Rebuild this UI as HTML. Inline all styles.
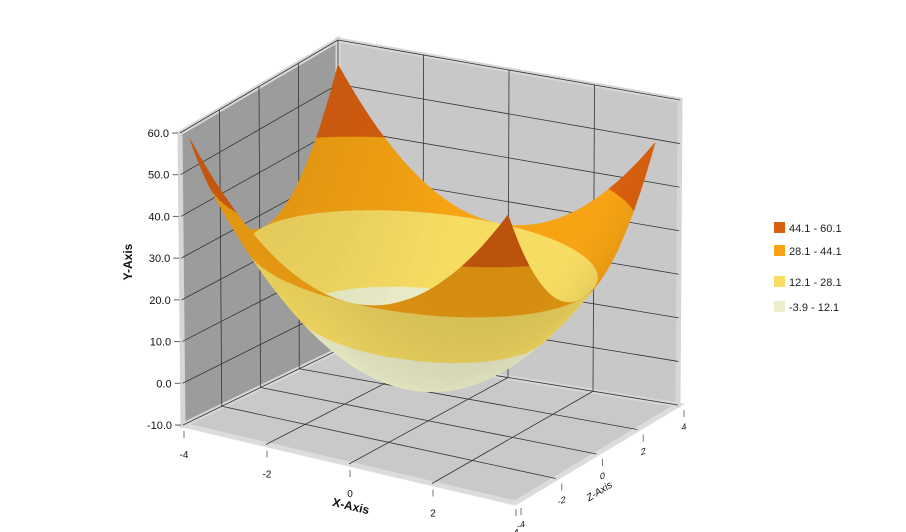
<!DOCTYPE html>
<html><head><meta charset="utf-8"><style>
body{margin:0;background:#fff;}
svg{display:block;font-family:"Liberation Sans",sans-serif;}
</style></head><body>
<svg id="chart" width="906" height="532" viewBox="0 0 906 532">
<g id="box"></g>
<g id="surf"></g>
<g id="axes"></g>
<g id="legend"></g>
</svg>
<script>
// ---- data ----
const xRange = [-4, 4];
const zRange = [-4, 4];
const yTicks = [-10, 0, 10, 20, 30, 40, 50, 60];
const xTicks = [-4, -2, 0, 2, 4];
const zTicks = [-4, -2, 0, 2, 4];
const coef = 2;
const offset = -3.9;
const bandLabels = ["44.1 - 60.1", "28.1 - 44.1", "12.1 - 28.1", "-3.9 - 12.1"];
const bandMins = [44.1, 28.1, 12.1, -3.9];
const bandMaxs = [60.1, 44.1, 28.1, 12.1];
const bandColors = ["#d9600f", "#f7a414", "#f7dc63", "#eceec9"];
const gridN = 40;

const NS = "http://www.w3.org/2000/svg";
function mk(tag, attrs, parent) {
  const e = document.createElementNS(NS, tag);
  for (const k in attrs) e.setAttribute(k, attrs[k]);
  parent.appendChild(e);
  return e;
}
function lerp(a, b, t) { return [a[0] + (b[0] - a[0]) * t, a[1] + (b[1] - a[1]) * t]; }
function bil(p00, p10, p11, p01, u, v) { return lerp(lerp(p00, p10, u), lerp(p01, p11, u), v); }

const bA = [183, 425], bB = [515, 503], bC = [678, 405], bD = [338, 350];
const tA = [180, 133], tB = [515, 205], tC = [680, 100], tD = [338, 40];
function boxP(x, y, z) {
  const u = (x + 4) / 8, v = (z + 4) / 8, w = (y + 10) / 70;
  return lerp(bil(bA, bB, bC, bD, u, v), bil(tA, tB, tC, tD, u, v), w);
}
const sA = [190, 426], sB = [508, 503], sC = [655, 405], sD = [338, 350];
const kA = 4.09, kB = 4.11, kC = 3.74, kD = 4.07;
function surfP(x, y, z) {
  const u = (x + 4) / 8, v = (z + 4) / 8;
  const f = bil(sA, sB, sC, sD, u, v);
  const k = (kA * (1 - u) + kB * u) * (1 - v) + (kD * (1 - u) + kC * u) * v;
  const lift = 11 * Math.max(0, 1 - (x * x + z * z) / 32);
  return [f[0], f[1] - k * (y + 10) - lift];
}
function pts(a) { return a.map(p => p[0].toFixed(1) + "," + p[1].toFixed(1)).join(" "); }

// ---- box ----
const box = document.getElementById("box");
const floor = mk("polygon", {points: pts([boxP(-4,-10,-4), boxP(4,-10,-4), boxP(4,-10,4), boxP(-4,-10,4)]), fill: "#c9c9c9", stroke: "#dcdcdc", "stroke-width": 5}, box);


const lw = mk("polygon", {points: pts([boxP(-4,-10,-4), boxP(-4,-10,4), boxP(-4,60,4), boxP(-4,60,-4)]), fill: "#9c9c9c", stroke: "#d6d6d6", "stroke-width": 5}, box);


const bw = mk("polygon", {points: pts([boxP(-4,-10,4), boxP(4,-10,4), boxP(4,60,4), boxP(-4,60,4)]), fill: "#c8c8c8", stroke: "#d6d6d6", "stroke-width": 5}, box);


function gl(p, q) {
  const l = mk("line", {x1: p[0], y1: p[1], x2: q[0], y2: q[1], stroke: "#333", "stroke-width": 0.8}, box);
  
  
}
yTicks.forEach(t => { gl(boxP(-4,t,-4), boxP(-4,t,4)); gl(boxP(-4,t,4), boxP(4,t,4)); });
zTicks.slice(1, -1).forEach(t => { gl(boxP(-4,-10,t), boxP(-4,60,t)); gl(boxP(-4,-10,t), boxP(4,-10,t)); });
xTicks.slice(1, -1).forEach(t => { gl(boxP(t,-10,4), boxP(t,60,4)); gl(boxP(t,-10,-4), boxP(t,-10,4)); });
gl(boxP(-4,-10,4), boxP(-4,60,4));

// ---- surface ----
const surf = document.getElementById("surf");
function fy(x, z) { return coef * (x * x + z * z) + offset; }
function shade(hex, f) {
  const n = parseInt(hex.slice(1), 16);
  const r = Math.min(255, Math.round(((n >> 16) & 255) * f)), g = Math.min(255, Math.round(((n >> 8) & 255) * f)), b = Math.min(255, Math.round((n & 255) * f));
  return "rgb(" + r + "," + g + "," + b + ")";
}
function clip(poly, lev, keepAbove) {
  const out = [];
  for (let i = 0; i < poly.length; i++) {
    const a = poly[i], b = poly[(i + 1) % poly.length];
    const ia = keepAbove ? a[2] >= lev : a[2] <= lev;
    const ib = keepAbove ? b[2] >= lev : b[2] <= lev;
    if (ia) out.push(a);
    if (ia !== ib) {
      const t = (lev - a[2]) / (b[2] - a[2]);
      out.push([a[0] + (b[0] - a[0]) * t, a[1] + (b[1] - a[1]) * t, lev]);
    }
  }
  return out;
}
const quads = [];
const step = (xRange[1] - xRange[0]) / gridN;
for (let i = 0; i < gridN; i++) for (let j = 0; j < gridN; j++) {
  const x0 = xRange[0] + i * step, x1 = x0 + step, z0 = zRange[0] + j * step, z1 = z0 + step;
  const xm = (x0 + x1) / 2, zm = (z0 + z1) / 2, ym = fy(xm, zm);
  const yn = (ym - offset) / 64 * 8;
  const depth = (zm - xm) * 0.61 - yn * 0.5;
  const front = Math.min(1, Math.max(0, (xm - zm + 1) / 7));
  const leftSide = Math.min(1, Math.max(0, (-xm - 1) / 3));
  const f = 1.0 - 0.14 * front - 0.08 * leftSide;
  quads.push({depth, f, poly: [[x0, z0, fy(x0, z0)], [x1, z0, fy(x1, z0)], [x1, z1, fy(x1, z1)], [x0, z1, fy(x0, z1)]]});
}
quads.sort((a, b) => b.depth - a.depth);
quads.forEach(q => {
  for (let b = 0; b < bandMins.length; b++) {
    let p = clip(q.poly, b === bandMins.length - 1 ? -1e9 : bandMins[b], true);
    if (p.length < 3) continue;
    p = clip(p, b === 0 ? 1e9 : bandMaxs[b], false);
    if (p.length < 3) continue;
    const col = shade(bandColors[b], q.f);
    const el = mk("polygon", {points: pts(p.map(v => surfP(v[0], v[2], v[1]))), fill: col, stroke: col, "stroke-width": 0.6, "stroke-linejoin": "round"}, surf);
    
    
  }
});

// ---- axes ----
const axes = document.getElementById("axes");
yTicks.forEach(t => {
  const p = boxP(-4, t, -4);
  const tk = mk("line", {x1: p[0] - 8, y1: p[1], x2: p[0] - 2, y2: p[1], stroke: "#666", "stroke-width": 1}, axes);
  
  
  const tx = mk("text", {x: p[0] - 11, y: p[1] + 4, "text-anchor": "end", "font-size": 11, fill: "#111"}, axes);
  tx.textContent = t.toFixed(1);
  
  
});
const yt = mk("text", {x: 0, y: 0, transform: "translate(132,262) rotate(-90)", "text-anchor": "middle", "font-size": 12, "font-weight": "bold", fill: "#111"}, axes);
yt.textContent = "Y-Axis";


xTicks.forEach(t => {
  const p = boxP(t, -10, -4);
  const tk = mk("line", {x1: p[0] + 1, y1: p[1] + 6, x2: p[0] + 1, y2: p[1] + 13, stroke: "#777", "stroke-width": 1}, axes);
  
  
  const tx = mk("text", {x: p[0] + 1, y: p[1] + 33, "text-anchor": "middle", "font-size": 10, fill: "#111"}, axes);
  tx.textContent = t;
  
  
});
const xt = mk("text", {x: 0, y: 0, transform: "translate(350,510) rotate(13)", "text-anchor": "middle", "font-size": 12, "font-weight": "bold", fill: "#111"}, axes);
xt.textContent = "X-Axis";


zTicks.forEach(t => {
  const p = boxP(4, -10, t);
  const tk = mk("line", {x1: p[0] + 6, y1: p[1] + 5, x2: p[0] + 6, y2: p[1] + 12, stroke: "#777", "stroke-width": 1}, axes);
  
  
  const tx = mk("text", {x: 0, y: 0, transform: "translate(" + (p[0] + 6) + "," + (p[1] + 25) + ") skewY(-20)", "text-anchor": "middle", "font-size": 9, fill: "#111"}, axes);
  tx.textContent = t;
  
  
});
const zt = mk("text", {x: 0, y: 0, transform: "translate(601,494) rotate(-32)", "text-anchor": "middle", "font-size": 10, "font-style": "italic", fill: "#111"}, axes);
zt.textContent = "Z-Axis";



// ---- legend ----
const legend = document.getElementById("legend");
const legendY = [228, 251, 282, 307];
bandLabels.forEach((lab, i) => {
  const g = mk("g", {}, legend);
  
  
  mk("rect", {x: 774, y: legendY[i] - 6, width: 11, height: 11, fill: bandColors[i]}, g);
  const tx = mk("text", {x: 789, y: legendY[i] + 4, "font-size": 11, fill: "#222"}, g);
  tx.textContent = lab;
});
</script>
</body></html>
